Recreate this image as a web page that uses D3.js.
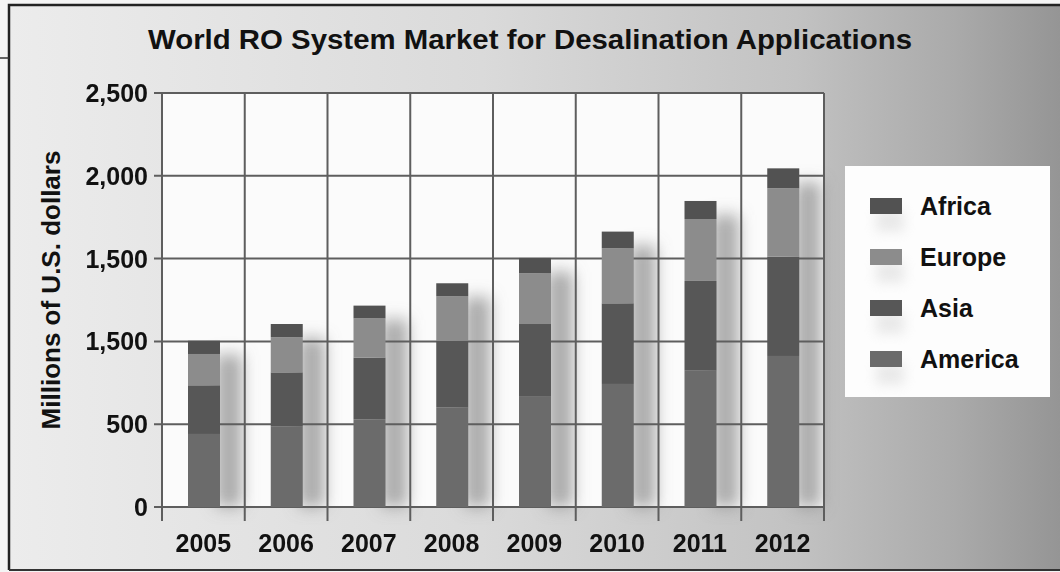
<!DOCTYPE html>
<html>
<head>
<meta charset="utf-8">
<script src="https://cdn.jsdelivr.net/npm/d3@7"></script>
<style>
  html, body { margin: 0; padding: 0; background: #fff; }
  svg { display: block; }
  text { font-family: "Liberation Sans", Arial, Helvetica, sans-serif; font-weight: bold; fill: #111; }
</style>
</head>
<body>
<svg id="chart" width="1060" height="572"></svg>
<script>
// World RO system market, millions of U.S. dollars, by region
const years = ["2005", "2006", "2007", "2008", "2009", "2010", "2011", "2012"];
const america = [441, 485, 530, 600, 670, 743, 823, 912];
const asia    = [294, 328, 372, 404, 435, 487, 542, 600];
const europe  = [189, 212, 237, 268, 306, 332, 374, 413];
const africa  = [ 80,  80,  77,  79,  93, 101, 109, 120];

const seriesNames = ["America", "Asia", "Europe", "Africa"];
const legendOrder = ["Africa", "Europe", "Asia", "America"];
const yTickValues = [0, 500, 1000, 1500, 2000, 2500];
const yTickLabels = ["0", "500", "1,500", "1,500", "2,000", "2,500"];
const colors = { America: "#6b6b6b", Asia: "#575757", Europe: "#8c8c8c", Africa: "#525252" };

const svg = d3.select("#chart");
const W = 1060, H = 572;
const plot = { left: 162, right: 824, top: 93, bottom: 507 };

const defs = svg.append("defs");
const bg = defs.append("linearGradient").attr("id", "bg").attr("x1", "0").attr("x2", "1").attr("y1", "0").attr("y2", "0");
[[0, "#ececec"], [0.45, "#dadada"], [0.75, "#c2c2c2"], [0.9, "#aaaaaa"], [1, "#959595"]]
  .forEach(([o, c]) => bg.append("stop").attr("offset", o).attr("stop-color", c));
const blur = defs.append("filter").attr("id", "shadowBlur").attr("x", "-50%").attr("y", "-20%").attr("width", "200%").attr("height", "140%");
blur.append("feGaussianBlur").attr("stdDeviation", 8);
const blurSoft = defs.append("filter").attr("id", "softBlur").attr("x", "-50%").attr("y", "-50%").attr("width", "200%").attr("height", "200%");
blurSoft.append("feGaussianBlur").attr("stdDeviation", 6);

// page background and frame
svg.append("rect").attr("width", W).attr("height", H).attr("fill", "#f4f4f4");
svg.append("rect").attr("x", 9).attr("y", 5).attr("width", W - 9).attr("height", 565).attr("fill", "url(#bg)");
svg.append("path").attr("d", `M9,570 V5 H${W}`).attr("fill", "none").attr("stroke", "#222").attr("stroke-width", 2.5);
svg.append("line").attr("x1", 9).attr("x2", W).attr("y1", 570).attr("y2", 570).attr("stroke", "#333").attr("stroke-width", 2);
svg.append("line").attr("x1", 0).attr("x2", 9).attr("y1", 58).attr("y2", 58).attr("stroke", "#333").attr("stroke-width", 1.5);

// title
svg.append("text").attr("x", 530).attr("y", 49).attr("text-anchor", "middle")
  .attr("font-size", 28).attr("textLength", 764).attr("lengthAdjust", "spacingAndGlyphs")
  .text("World RO System Market for Desalination Applications");

// scales
const x = d3.scaleBand().domain(years).range([plot.left, plot.right]).paddingInner(0).paddingOuter(0);
const y = d3.scaleLinear().domain([0, 2500]).range([plot.bottom, plot.top]);
const barW = 32, barOff = 26;

// plot background
svg.append("rect").attr("x", plot.left).attr("y", plot.top)
  .attr("width", plot.right - plot.left).attr("height", plot.bottom - plot.top).attr("fill", "#fbfbfb");

const rows = years.map((yr, i) => ({ year: yr, America: america[i], Asia: asia[i], Europe: europe[i], Africa: africa[i] }));
const stacked = d3.stack().keys(seriesNames)(rows);
const totals = rows.map(r => seriesNames.reduce((s, k) => s + r[k], 0));

// soft shadows to the right of each bar
svg.append("g").attr("filter", "url(#shadowBlur)").selectAll("rect").data(rows).join("rect")
  .attr("x", (d) => x(d.year) + barOff + barW - 4)
  .attr("y", (d, i) => y(totals[i]) + 14)
  .attr("width", 26)
  .attr("height", (d, i) => plot.bottom - y(totals[i]) - 14)
  .attr("fill", "#888").attr("opacity", 0.7);

// gridlines
const grid = svg.append("g").attr("stroke", "#5e5e5e").attr("stroke-width", 2);
grid.selectAll("line.h").data(yTickValues).join("line").attr("class", "h")
  .attr("x1", plot.left - 8).attr("x2", plot.right).attr("y1", d => y(d)).attr("y2", d => y(d));
const bounds = years.map(yr => x(yr)).concat([plot.right]);
grid.selectAll("line.v").data(bounds).join("line").attr("class", "v")
  .attr("x1", d => d).attr("x2", d => d).attr("y1", plot.top).attr("y2", plot.bottom + 14);

// stacked bars
svg.append("g").selectAll("g").data(stacked).join("g")
  .attr("fill", s => colors[s.key])
  .selectAll("rect").data(s => s).join("rect")
  .attr("x", d => x(d.data.year) + barOff)
  .attr("y", d => y(d[1]))
  .attr("width", barW)
  .attr("height", d => y(d[0]) - y(d[1]));

// y axis labels
svg.append("g").selectAll("text").data(yTickValues).join("text")
  .attr("x", 148).attr("y", d => y(d) + 9).attr("text-anchor", "end").attr("font-size", 25)
  .text((d, i) => yTickLabels[i]);

// x axis labels
svg.append("g").selectAll("text").data(years).join("text")
  .attr("x", d => x(d) + x.bandwidth() / 2).attr("y", 552).attr("text-anchor", "middle").attr("font-size", 25)
  .text(d => d);

// y axis title
svg.append("text").attr("transform", "translate(60,290) rotate(-90)").attr("text-anchor", "middle")
  .attr("font-size", 26).text("Millions of U.S. dollars");

// legend
const lg = svg.append("g");
lg.append("rect").attr("x", 845).attr("y", 166).attr("width", 205).attr("height", 231).attr("fill", "#fdfdfd");
const item = lg.selectAll("g").data(legendOrder).join("g")
  .attr("transform", (d, i) => `translate(870, ${206 + i * 51})`);
item.append("rect").attr("x", 6).attr("y", 4).attr("width", 28).attr("height", 22)
  .attr("fill", "#ccc").attr("opacity", 0.4).attr("filter", "url(#softBlur)");
item.append("rect").attr("x", 0).attr("y", -8).attr("width", 32).attr("height", 16).attr("fill", d => colors[d]);
item.append("text").attr("x", 50).attr("y", 9).attr("font-size", 25).text(d => d);
</script>
</body>
</html>
